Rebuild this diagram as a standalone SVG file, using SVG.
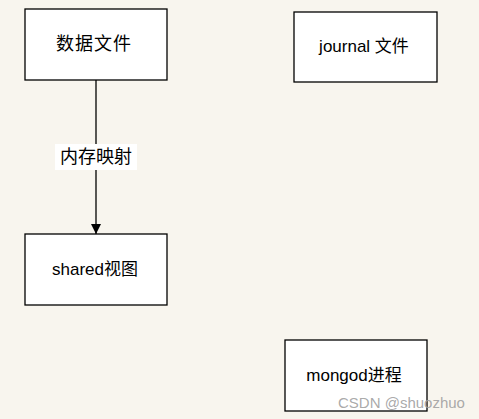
<svg xmlns="http://www.w3.org/2000/svg" width="479" height="419" viewBox="0 0 479 419">
<style>
.box{fill:#ffffff;stroke:#000000;stroke-width:1.3}
.t{font-family:"Liberation Sans","Noto Sans CJK SC",sans-serif;fill:#000;text-anchor:middle;dominant-baseline:central}
</style>
<defs>
<marker id="arr" viewBox="0 0 10 10" refX="10" refY="5" markerWidth="10" markerHeight="10" markerUnits="userSpaceOnUse" orient="auto">
<path d="M0,0 L10,5 L0,10 z" fill="#000"/>
</marker>
</defs>
<rect width="479" height="419" fill="#f8f5ee"/>
<g id="connectors">
<line x1="96" y1="80" x2="96" y2="234" stroke="#000" stroke-width="1.3" marker-end="url(#arr)"/>
<rect x="55" y="144" width="82" height="26" fill="#ffffff"/>
<text class="t" x="96" y="157" font-size="18">内存映射</text>
</g>
<g id="data-file">
<rect class="box" x="25" y="9" width="142" height="71"/>
<text class="t" x="94" y="44" font-size="18" letter-spacing="1">数据文件</text>
</g>
<g id="journal-file">
<rect class="box" x="294" y="12" width="143" height="70"/>
<text class="t" x="364" y="46" font-size="17">journal 文件</text>
</g>
<g id="shared-view">
<rect class="box" x="25" y="234" width="142" height="71"/>
<text class="t" x="95" y="269" font-size="17">shared视图</text>
</g>
<g id="mongod">
<rect class="box" x="285" y="340" width="142" height="71"/>
<text class="t" x="354" y="375" font-size="17">mongod进程</text>
</g>
<text x="338" y="408" font-family="Liberation Sans,'Noto Sans',sans-serif" font-size="15" fill="#a0a0a0" fill-opacity="0.9">CSDN @shuozhuo</text>
</svg>
